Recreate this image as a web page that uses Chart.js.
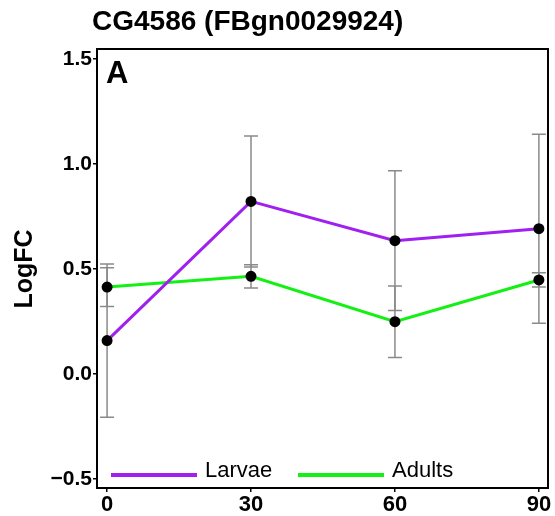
<!DOCTYPE html>
<html>
<head>
<meta charset="utf-8">
<script src="https://cdn.jsdelivr.net/npm/chart.js@4"></script>
<style>
  body { margin: 0; background: #fff; }
</style>
</head>
<body>
<canvas id="logfcChart" width="555" height="516"></canvas>
<script>
const timePoints = [0, 30, 60, 90];
const larvaeLogFC = [0.159, 0.822, 0.635, 0.692];
const larvaeSE = [0.365, 0.312, 0.333, 0.450];
const adultsLogFC = [0.414, 0.465, 0.249, 0.448];
const adultsSE = [0.092, 0.055, 0.170, 0.034];
const yTickValues = [-0.5, 0.0, 0.5, 1.0, 1.5];
const xTickValues = [0, 30, 60, 90];

const FONT = "'Liberation Sans', Arial, sans-serif";
const PURPLE = "#a020f0";
const GREEN = "#14f014";

const toPoints = (vals) => timePoints.map((t, i) => ({ x: t, y: vals[i] }));

// vertical error bars with caps, drawn under the lines
const errorBars = {
  id: "errorBars",
  beforeDatasetsDraw(chart) {
    const { ctx, scales: { x, y } } = chart;
    ctx.save();
    ctx.strokeStyle = "#8a8a8a";
    ctx.lineWidth = 1.5;
    const drawBar = (vals, se) => {
      vals.forEach((v, i) => {
        const px = x.getPixelForValue(timePoints[i]);
        const top = y.getPixelForValue(v + se[i]);
        const bot = y.getPixelForValue(v - se[i]);
        ctx.beginPath();
        ctx.moveTo(px, top); ctx.lineTo(px, bot);
        ctx.moveTo(px - 7, top); ctx.lineTo(px + 7, top);
        ctx.moveTo(px - 7, bot); ctx.lineTo(px + 7, bot);
        ctx.stroke();
      });
    };
    drawBar(larvaeLogFC, larvaeSE);
    drawBar(adultsLogFC, adultsSE);
    ctx.restore();
  },
};

// panel box, title, panel letter, y title and the legend inside the panel
const decorations = {
  id: "decorations",
  afterDraw(chart) {
    const { ctx, chartArea: a } = chart;
    ctx.save();
    ctx.strokeStyle = "#000";
    ctx.lineWidth = 2;
    ctx.strokeRect(a.left, a.top, a.right - a.left, a.bottom - a.top);

    ctx.fillStyle = "#000";
    ctx.textBaseline = "alphabetic";
    ctx.textAlign = "left";
    ctx.font = "bold 28px " + FONT;
    ctx.fillText("CG4586 (FBgn0029924)", 92, 30);

    ctx.font = "bold 31px " + FONT;
    ctx.fillText("A", 106, 83);

    ctx.save();
    ctx.translate(32, 269);
    ctx.rotate(-Math.PI / 2);
    ctx.textAlign = "center";
    ctx.font = "bold 25px " + FONT;
    ctx.fillText("LogFC", 0, 0);
    ctx.restore();

    const legendItems = [
      { label: "Larvae", color: PURPLE, x: 111 },
      { label: "Adults", color: GREEN, x: 298 },
    ];
    ctx.lineWidth = 4;
    ctx.font = "22px " + FONT;
    legendItems.forEach((item) => {
      ctx.strokeStyle = item.color;
      ctx.beginPath();
      ctx.moveTo(item.x, 475);
      ctx.lineTo(item.x + 86, 475);
      ctx.stroke();
      ctx.fillText(item.label, item.x + 94, 477);
    });
    ctx.restore();
  },
};

new Chart(document.getElementById("logfcChart"), {
  type: "line",
  data: {
    datasets: [
      {
        label: "Larvae",
        data: toPoints(larvaeLogFC),
        borderColor: PURPLE,
        borderWidth: 3,
        pointBackgroundColor: "#000",
        pointBorderColor: "#000",
        pointRadius: 4,
        tension: 0,
      },
      {
        label: "Adults",
        data: toPoints(adultsLogFC),
        borderColor: GREEN,
        borderWidth: 3,
        pointBackgroundColor: "#000",
        pointBorderColor: "#000",
        pointRadius: 4,
        tension: 0,
      },
    ],
  },
  options: {
    responsive: false,
    animation: false,
    layout: { padding: { top: 49, right: 7, left: 0, bottom: 0 } },
    plugins: {
      legend: { display: false },
      tooltip: { enabled: false },
      title: { display: false },
    },
    scales: {
      x: {
        type: "linear",
        min: -2.1,
        max: 91.9,
        afterBuildTicks: (s) => { s.ticks = xTickValues.map((v) => ({ value: v })); },
        afterFit: (s) => { s.height = 28; },
        grid: { drawOnChartArea: false, drawTicks: true, tickLength: 4, color: "#000", lineWidth: 1.5 },
        border: { display: false },
        ticks: { color: "#000", padding: 0, font: { family: FONT, size: 22, weight: "bold" } },
      },
      y: {
        min: -0.543,
        max: 1.548,
        afterBuildTicks: (s) => { s.ticks = yTickValues.map((v) => ({ value: v })); },
        afterFit: (s) => { s.width = 97; },
        grid: { drawOnChartArea: false, drawTicks: true, tickLength: 4, color: "#000", lineWidth: 1.5 },
        border: { display: false },
        ticks: {
          color: "#000",
          padding: 1,
          font: { family: FONT, size: 21, weight: "bold" },
          callback: (v) => v.toFixed(1).replace("-", "\u2212"),
        },
      },
    },
  },
  plugins: [errorBars, decorations],
});
</script>
</body>
</html>
